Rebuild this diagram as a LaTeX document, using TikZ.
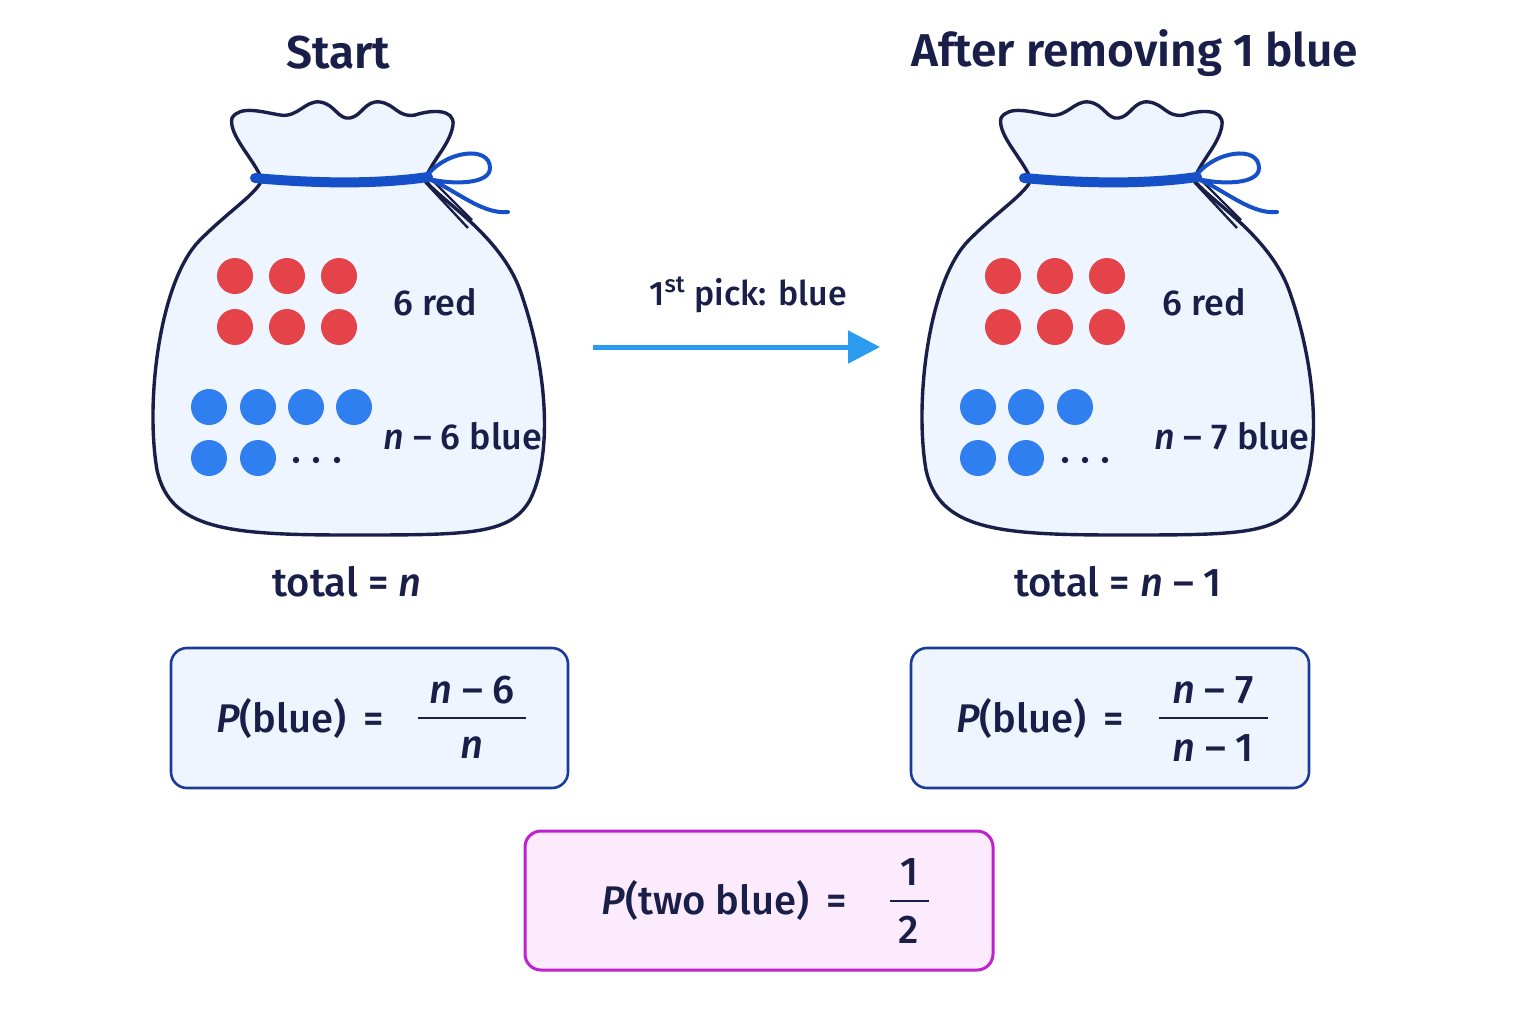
\documentclass[tikz,border=0pt]{standalone}
\usepackage{fontspec}
\setmainfont{Fira Sans}[UprightFont={* Medium},ItalicFont={* Medium Italic},BoldFont={* SemiBold}]
\usetikzlibrary{arrows.meta}
\definecolor{ink}{HTML}{1A1F4A}
\definecolor{bagfill}{HTML}{EEF5FE}
\definecolor{tie}{HTML}{1550C8}
\definecolor{redb}{HTML}{E5434A}
\definecolor{blueb}{HTML}{2F7FF0}
\definecolor{arr}{HTML}{2A9BEF}
\definecolor{boxb}{HTML}{1C3A9A}
\definecolor{pinkf}{HTML}{FCEBFC}
\definecolor{pinkb}{HTML}{C021D0}
\tikzset{
 red ball/.style={circle,fill=redb,minimum size=18pt,inner sep=0},
 blue ball/.style={circle,fill=blueb,minimum size=18pt,inner sep=0},
 dot/.style={circle,fill=ink,minimum size=3.2pt,inner sep=0},
 lab/.style={text=ink,font=\fontsize{18}{22}\selectfont},
 title/.style={text=ink,font=\fontsize{23}{28}\selectfont\bfseries},
 tot/.style={text=ink,font=\fontsize{20}{24}\selectfont},
 eq/.style={text=ink,font=\fontsize{20}{24}\selectfont},
 pbox/.style={draw=boxb,line width=1.3pt,fill=bagfill,rounded corners=8},
}
\newcommand{\bag}[1]{%
\begin{scope}[xshift=#1*0.5pt]
\draw[ink,line width=1.7pt,fill=bagfill,line join=round]
 (262,180) .. controls (255,160) and (228,135) .. (232,118)
 .. controls (240,105) and (262,112) .. (280,115)
 .. controls (298,118) and (305,100) .. (320,102)
 .. controls (335,104) and (338,120) .. (350,118)
 .. controls (362,116) and (365,100) .. (380,102)
 .. controls (395,104) and (398,118) .. (415,115)
 .. controls (430,110) and (455,108) .. (453,125)
 .. controls (450,145) and (432,160) .. (425,180)
 .. controls (440,200) and (500,235) .. (520,290)
 .. controls (545,360) and (555,450) .. (530,500)
 .. controls (510,535) and (470,535) .. (350,535)
 .. controls (230,535) and (170,530) .. (157,470)
 .. controls (145,400) and (160,280) .. (200,240)
 .. controls (230,210) and (255,195) .. (262,180) -- cycle;
\draw[ink,line width=1.2pt] (425,182) -- (468,228) (430,178) -- (472,220);
\draw[tie,line width=2pt,line cap=round]
 (425,178) .. controls (445,150) and (490,145) .. (490,168)
 .. controls (490,185) and (450,185) .. (425,178)
 .. controls (450,185) and (480,215) .. (508,212);
\draw[tie,line width=5pt,line cap=round] (255,178) .. controls (320,184) and (380,184) .. (428,177);
\end{scope}}
\begin{document}
\begin{tikzpicture}[x=0.5pt,y=-0.5pt]
\fill[white] (0,0) rectangle (1536,1024);
\bag{0}
\bag{769}
\node[title] (t1) at (338,53) {Start};
\node[title] (t2) at (1135,53) {After removing 1 blue};
% left balls
\foreach \x/\n in {235/a,287/b,339/c}{\node[red ball] (lr1\n) at (\x,276) {};\node[red ball] (lr2\n) at (\x,327) {};}
\foreach \x/\n in {209/a,258/b,306/c,354/d}{\node[blue ball] (lb1\n) at (\x,407) {};}
\foreach \x/\n in {209/a,258/b}{\node[blue ball] (lb2\n) at (\x,458) {};}
\foreach \x/\n in {296/a,316/b,337/c}{\node[dot] (ld\n) at (\x,460) {};}
% right balls
\foreach \x/\n in {1003/a,1055/b,1107/c}{\node[red ball] (rr1\n) at (\x,276) {};\node[red ball] (rr2\n) at (\x,327) {};}
\foreach \x/\n in {978/a,1026/b,1075/c}{\node[blue ball] (rb1\n) at (\x,407) {};}
\foreach \x/\n in {978/a,1026/b}{\node[blue ball] (rb2\n) at (\x,458) {};}
\foreach \x/\n in {1065/a,1085/b,1105/c}{\node[dot] (rd\n) at (\x,460) {};}
\node[lab] (l6r) at (435,302) {6 red};
\node[lab] (lnb) at (463,436) {\textit{n} – 6 blue};
\node[lab] (r6r) at (1204,302) {6 red};
\node[lab] (rnb) at (1232,436) {\textit{n} – 7 blue};
\node[tot] (tl) at (347,582) {total = \textit{n}};
\node[tot] (tr) at (1118,582) {total = \textit{n} – 1};
% arrow
\coordinate (a1) at (593,347); \coordinate (a2) at (880,347);
\draw[arr,line width=2.5pt,-{Triangle[length=16pt,width=16pt]}] (a1) -- (a2);
\node[lab,font=\fontsize{17}{20}\selectfont] (al) at (748,295) {1\textsuperscript{st} pick: blue};
% boxes
\draw[pbox] (171,648) rectangle (568,788);
\node[eq] (pl) at (300,718) {\textit{P}(blue)\, =};
\node[eq] (pln) at (472,690) {\textit{n} – 6};
\node[eq] (pld) at (472,748) {\textit{n}};
\draw[ink,line width=1.3pt] (418,718) -- (526,718);
\draw[pbox] (911,648) rectangle (1309,788);
\node[eq] (pr) at (1040,718) {\textit{P}(blue)\, =};
\node[eq] (prn) at (1213,690) {\textit{n} – 7};
\node[eq] (prd) at (1213,748) {\textit{n} – 1};
\draw[ink,line width=1.3pt] (1159,718) -- (1268,718);
\draw[draw=pinkb,line width=1.5pt,fill=pinkf,rounded corners=8] (525,831) rectangle (993,970);
\node[eq] (pt) at (724,900) {\textit{P}(two blue)\, =};
\node[eq] (ptn) at (909,872) {1};
\node[eq] (ptd) at (909,930) {2};
\draw[ink,line width=1.3pt] (890,901) -- (929,901);
\end{tikzpicture}
\end{document}
